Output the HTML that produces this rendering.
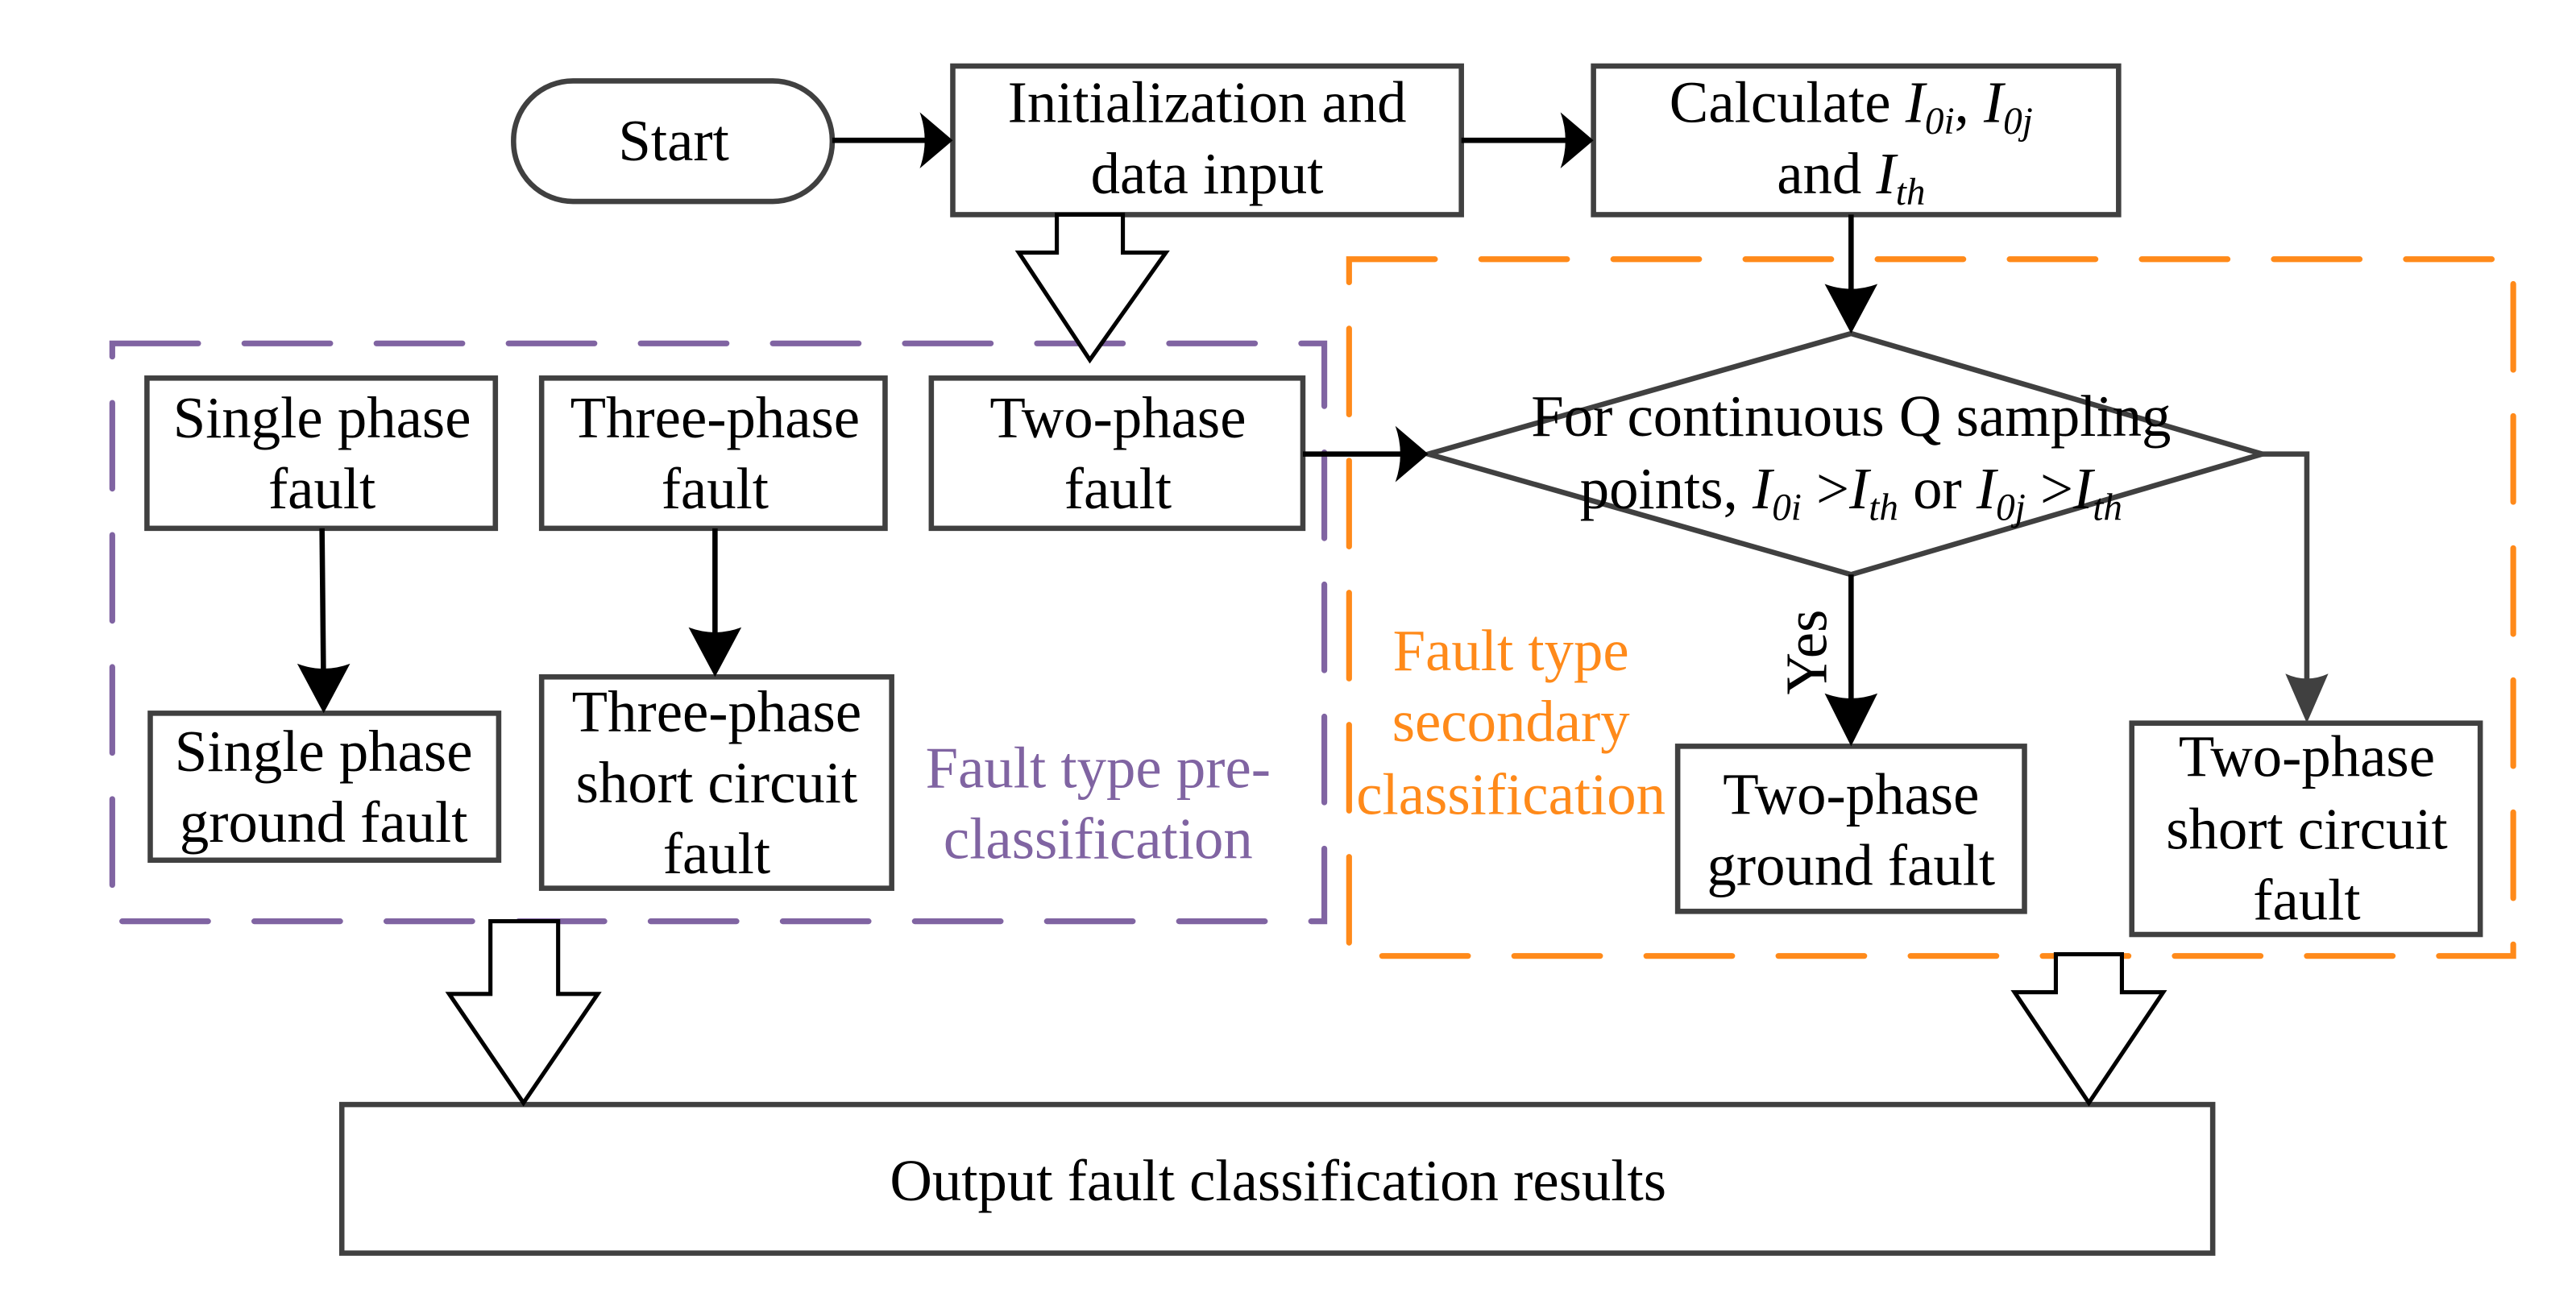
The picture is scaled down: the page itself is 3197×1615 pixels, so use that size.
<!DOCTYPE html>
<html><head><meta charset="utf-8"><style>
html,body{margin:0;padding:0;background:#fff;}
svg{display:block;}
text{font-family:"Liberation Serif",serif;font-size:35.5px;}
</style></head><body>
<svg width="3197" height="1615" viewBox="0 0 1560 788" preserveAspectRatio="none" xmlns="http://www.w3.org/2000/svg">
<g fill="none" stroke="#404040" stroke-width="3.2">
<rect x="311" y="49" width="193" height="73" rx="36" ry="36"/>
<rect x="577" y="40" width="308" height="90"/>
<rect x="965" y="40" width="318" height="90"/>
<polygon points="865,275 1121,202 1370,275 1121,348"/>
<rect x="89" y="229" width="211" height="91"/>
<rect x="328" y="229" width="208" height="91"/>
<rect x="564" y="229" width="225" height="91"/>
<rect x="91" y="432" width="211" height="89"/>
<rect x="328" y="410" width="212" height="128"/>
<rect x="1016" y="452" width="210" height="100"/>
<rect x="1291" y="438" width="211" height="128"/>
<rect x="207" y="669" width="1133" height="90"/>
<polyline points="1370,275 1397,275 1397,425"/>
</g>
<rect x="68" y="208" width="734" height="350" fill="none" stroke="#8064A2" stroke-width="3.5" stroke-dasharray="52,28" stroke-linecap="round"/>
<rect x="817" y="157" width="705" height="422" fill="none" stroke="#FF8A1A" stroke-width="3.5" stroke-dasharray="52,28" stroke-linecap="round"/>
<g stroke="#000" stroke-width="3.2" fill="none">
<line x1="504" y1="85" x2="565" y2="85"/>
<line x1="885" y1="85" x2="952" y2="85"/>
<line x1="1121" y1="130" x2="1121" y2="190"/>
<line x1="789" y1="275" x2="852" y2="275"/>
<line x1="195" y1="320" x2="196" y2="420"/>
<line x1="433" y1="320" x2="433" y2="398"/>
<line x1="1121" y1="348" x2="1121" y2="438"/>
</g>
<g fill="#000">
<path d="M577,85 L557,68 Q563,85 557,102 Z"/>
<path d="M965,85 L945,68 Q951,85 945,102 Z"/>
<path d="M1121,202 L1105,172 Q1121,178 1137,172 Z"/>
<path d="M865,275 L845,258 Q851,275 845,292 Z"/>
<path d="M196,432 L180,402 Q196,408 212,402 Z"/>
<path d="M433,410 L417,380 Q433,386 449,380 Z"/>
<path d="M1121,452 L1105,420 Q1121,426 1137,420 Z"/>
<path fill="#404040" d="M1397,438 L1384,408 Q1397,414 1410,408 Z"/>
</g>
<g fill="#fff" stroke="#000" stroke-width="2.5">
<polygon points="640,130 680,130 680,153 706,153 660,218 617,153 640,153"/>
<polygon points="297,558 338,558 338,602 362,602 317,668 272,602 297,602"/>
<polygon points="1245,578 1285,578 1285,601 1310,601 1265,668 1220,601 1245,601"/>
</g>
<g text-anchor="middle" fill="#000">
<text x="408" y="97">Start</text>
<text x="731" y="74">Initialization and</text>
<text x="731" y="117">data input</text>
<text x="1121" y="74">Calculate <tspan font-style="italic">I</tspan><tspan font-style="italic" font-size="23" dy="7">0i</tspan><tspan dy="-7">, </tspan><tspan font-style="italic">I</tspan><tspan font-style="italic" font-size="23" dy="7">0j</tspan></text>
<text x="1121" y="117">and <tspan font-style="italic">I</tspan><tspan font-style="italic" font-size="23" dy="7">th</tspan></text>
<text x="1121" y="264">For continuous Q sampling</text>
<text x="1121" y="308">points, <tspan font-style="italic">I</tspan><tspan font-style="italic" font-size="23" dy="7">0i</tspan><tspan dy="-7"> &gt;</tspan><tspan font-style="italic">I</tspan><tspan font-style="italic" font-size="23" dy="7">th</tspan><tspan dy="-7"> or </tspan><tspan font-style="italic">I</tspan><tspan font-style="italic" font-size="23" dy="7">0j</tspan><tspan dy="-7"> &gt;</tspan><tspan font-style="italic">I</tspan><tspan font-style="italic" font-size="23" dy="7">th</tspan></text>
<text x="195" y="265">Single phase</text>
<text x="195" y="308">fault</text>
<text x="433" y="265">Three-phase</text>
<text x="433" y="308">fault</text>
<text x="677" y="265">Two-phase</text>
<text x="677" y="308">fault</text>
<text x="196" y="467">Single phase</text>
<text x="196" y="510">ground fault</text>
<text x="434" y="443">Three-phase</text>
<text x="434" y="486">short circuit</text>
<text x="434" y="529">fault</text>
<text x="1121" y="493">Two-phase</text>
<text x="1121" y="536">ground fault</text>
<text x="1397" y="470">Two-phase</text>
<text x="1397" y="514">short circuit</text>
<text x="1397" y="557">fault</text>
<text x="774" y="727">Output fault classification results</text>
<text x="665" y="477" fill="#8064A2">Fault type pre-</text>
<text x="665" y="520" fill="#8064A2">classification</text>
<text x="915" y="406" fill="#FF8A1A">Fault type</text>
<text x="915" y="449" fill="#FF8A1A">secondary</text>
<text x="915" y="493" fill="#FF8A1A">classification</text>
<text x="0" y="0" transform="translate(1106,395) rotate(-90)">Yes</text>
</g>
</svg>
</body></html>
